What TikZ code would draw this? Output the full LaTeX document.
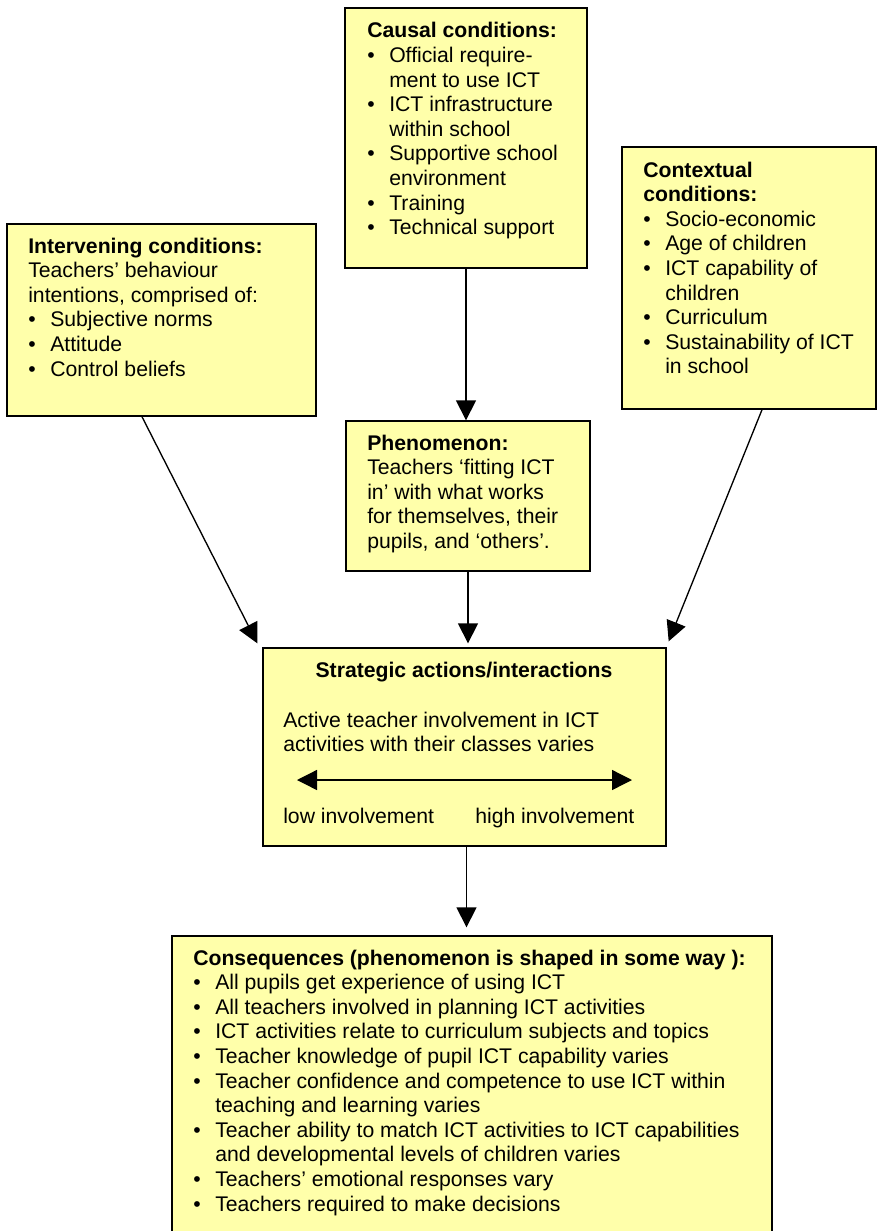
\documentclass[tikz,border=0pt]{standalone}
\usepackage{fontspec}
\setmainfont{Liberation Sans}
\usetikzlibrary{arrows.meta,calc,fit}
\definecolor{boxfill}{RGB}{255,255,170}
\newcommand{\bi}[1]{\makebox[16.5pt][l]{\textbullet}#1}
\newcommand{\ci}[1]{\hspace*{16.5pt}#1}
\newcommand{\boxfont}{\fontsize{15.9pt}{18.45pt}\selectfont}
\newcommand{\boxtext}[2]{\parbox[t]{#1}{\boxfont\raggedright #2}}
\tikzset{
  box/.style={draw=black, line width=1pt, fill=boxfill, inner sep=0pt},
  txt/.style={anchor=base west, inner sep=0pt},
  arr/.style={line width=1pt, -{Triangle[length=15pt,width=15pt]}},
  dblarr/.style={line width=1pt, {Triangle[length=15pt,width=15pt]}-{Triangle[length=15pt,width=15pt]}}
}
\begin{document}
\begin{tikzpicture}[x=0.75pt,y=-0.75pt]
\useasboundingbox (0,0) rectangle (877,1231);
% boxes
\node[box, fit={(345,8) (587,268)}] (causal) {};
\node[box, fit={(7,224) (316,416)}] (interv) {};
\node[box, fit={(622,147) (876,409)}] (context) {};
\node[box, fit={(346,421) (590,571)}] (phen) {};
\node[box, fit={(263,648) (666,846)}] (strat) {};
\node[box, fit={(172,936) (772,1234)}] (conseq) {};
% texts
\node[txt] (causaltxt) at (367,38) {\boxtext{230pt}{\textbf{Causal conditions:}\\
\bi{Official require-}\\
\ci{ment to use ICT}\\
\bi{ICT infrastructure}\\
\ci{within school}\\
\bi{Supportive school}\\
\ci{environment}\\
\bi{Training}\\
\bi{Technical support}}};
\node[txt] (contexttxt) at (643,177) {\boxtext{230pt}{\textbf{Contextual}\\
\textbf{conditions:}\\
\bi{Socio-economic}\\
\bi{Age of children}\\
\bi{ICT capability of}\\
\ci{children}\\
\bi{Curriculum}\\
\bi{Sustainability of ICT}\\
\ci{in school}}};
\node[txt] (intervtxt) at (28,253) {\boxtext{230pt}{\textbf{Intervening conditions:}\\
Teachers’ behaviour\\
intentions, comprised of:\\
\bi{Subjective norms}\\
\bi{Attitude}\\
\bi{Control beliefs}}};
\node[txt] (phentxt) at (367,450) {\boxtext{230pt}{\textbf{Phenomenon:}\\
Teachers ‘fitting ICT\\
in’ with what works\\
for themselves, their\\
pupils, and ‘others’.}};
\node[anchor=base, inner sep=0pt, font=\boxfont\bfseries] (strathead) at (464,677) {Strategic actions/interactions};
\node[txt] (strattxt) at (283,727) {\boxtext{300pt}{Active teacher involvement in ICT\\
activities with their classes varies}};
\node[txt, font=\boxfont] (lowtxt) at (283,823) {low involvement};
\node[txt, font=\boxfont] (hightxt) at (475,823) {high involvement};
\coordinate (lowend) at (297,780);
\coordinate (highend) at (632,780);
\draw[dblarr] (lowend) -- (highend);
\node[txt] (conseqtxt) at (193,965) {\boxtext{440pt}{\textbf{Consequences (phenomenon is shaped in some way ):}\\
\bi{All pupils get experience of using ICT}\\
\bi{All teachers involved in planning ICT activities}\\
\bi{ICT activities relate to curriculum subjects and topics}\\
\bi{Teacher knowledge of pupil ICT capability varies}\\
\bi{Teacher confidence and competence to use ICT within}\\
\ci{teaching and learning varies}\\
\bi{Teacher ability to match ICT activities to ICT capabilities}\\
\ci{and developmental levels of children varies}\\
\bi{Teachers’ emotional responses vary}\\
\bi{Teachers required to make decisions}}};
% connectors
\draw[arr] (causal.south) -- (causal.south |- phen.north);
\draw[arr] (phen.south) -- ($(phen.south |- strat.north)+(0,-4)$);
\draw[arr] ($(strat.south)+(2,0)$) -- ($(strat.south |- conseq.north)+(2,-8)$);
\draw[arr] ($(interv.south west)!0.437!(interv.south east)$) -- ($(strat.north west)+(-5,-4)$);
\draw[arr] ($(context.south west)!0.551!(context.south east)$) -- ($(strat.north east)+(2,-6)$);
\end{tikzpicture}
\end{document}
